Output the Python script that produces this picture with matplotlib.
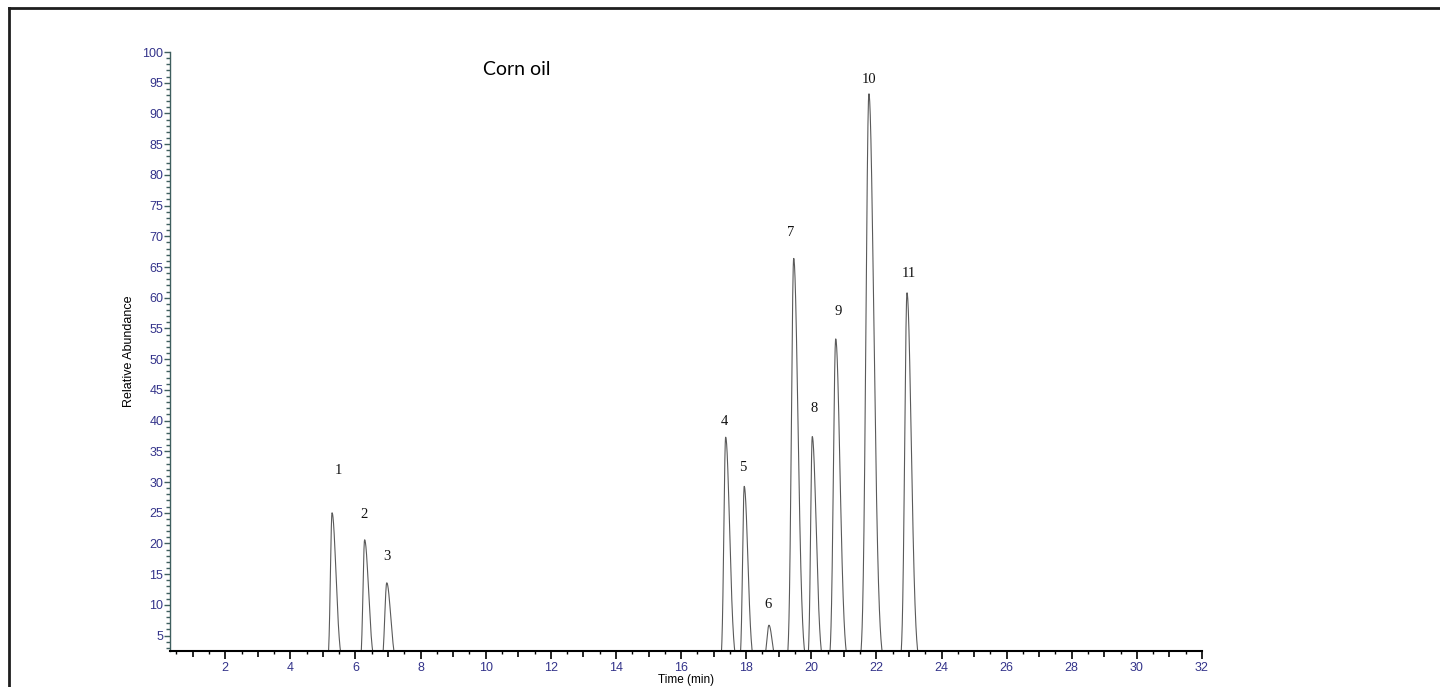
import numpy as np
import matplotlib.pyplot as plt
from matplotlib.lines import Line2D
from matplotlib.ticker import MultipleLocator, FuncFormatter

# Peak table (time in min, relative abundance)
peak_rt = [5.28, 6.28, 6.96, 17.37, 17.94, 18.70, 19.46, 20.03, 20.75, 21.77, 22.94]
peak_height = [25.0, 20.6, 13.6, 37.3, 29.3, 6.7, 66.4, 37.4, 53.3, 93.2, 60.8]
peak_wl = [0.050, 0.050, 0.060, 0.055, 0.050, 0.070, 0.070, 0.050, 0.070, 0.090, 0.070]
peak_wr = [0.120, 0.120, 0.120, 0.120, 0.110, 0.100, 0.130, 0.120, 0.130, 0.150, 0.130]

# Peak number labels
label_text = ['1', '2', '3', '4', '5', '6', '7', '8', '9', '10', '11']
label_x = [5.46, 6.26, 6.96, 17.32, 17.88, 18.66, 19.38, 20.09, 20.82, 21.77, 23.00]
label_y = [31.9, 24.7, 17.9, 39.9, 32.4, 10.0, 70.7, 41.9, 57.7, 95.6, 64.0]

# Build the trace from the peak table (asymmetric gaussian peaks)
t = np.linspace(0.3, 32, 8000)
signal = np.zeros_like(t)
for rt, h, wl, wr in zip(peak_rt, peak_height, peak_wl, peak_wr):
    w = np.where(t < rt, wl, wr)
    signal += h * np.exp(-0.5 * ((t - rt) / w) ** 2)

navy = '#33338a'
plt.rcParams['font.family'] = ['Liberation Sans', 'DejaVu Sans']

fig = plt.figure(figsize=(14.4, 6.87), dpi=100)
ax = fig.add_axes([0.118, 0.0524, 0.7167, 0.8719])

ax.plot(t, signal, color='#5a5a5a', lw=0.8)

for txt, lx, ly in zip(label_text, label_x, label_y):
    ax.text(lx, ly, txt, ha='center', va='center', fontsize=10.5,
            family=['Liberation Serif', 'DejaVu Serif'], color='#111111')

ax.text(0.3365, 0.97, 'Corn oil', transform=ax.transAxes, ha='center', va='center',
        fontsize=14, family=['Lato', 'DejaVu Sans'], color='black')

ax.set_xlim(0.3, 32)
ax.set_ylim(2.5, 100)

# Spines
ax.spines['top'].set_visible(False)
ax.spines['right'].set_visible(False)
ax.spines['bottom'].set_linewidth(1.5)
ax.spines['bottom'].set_color('black')
ax.spines['left'].set_linewidth(1.0)
ax.spines['left'].set_color('#3f5f5f')

# X ticks: integers (labels on even), minor at 0.5
ax.xaxis.set_major_locator(MultipleLocator(1))
ax.xaxis.set_minor_locator(MultipleLocator(0.5))
ax.xaxis.set_major_formatter(FuncFormatter(lambda v, p: '%d' % v if int(round(v)) % 2 == 0 else ''))
ax.tick_params(axis='x', which='major', direction='out', length=4.3, width=1.2,
               color='black', labelcolor=navy, labelsize=9, pad=3.5)
ax.tick_params(axis='x', which='minor', direction='out', length=2, width=1.0, color='black')
for v, tk in zip(ax.get_xticks(), ax.xaxis.get_major_ticks()):
    if int(round(v)) % 2 == 0:
        tk.tick1line.set_markersize(6)

# Y ticks: every 5 labelled, minor every 1
ax.yaxis.set_major_locator(MultipleLocator(5))
ax.yaxis.set_minor_locator(MultipleLocator(1))
ax.tick_params(axis='y', which='major', direction='out', length=4.3, width=1.0,
               color='#3f5f5f', labelcolor=navy, labelsize=9, pad=0.5)
ax.tick_params(axis='y', which='minor', direction='out', length=2.8, width=1.0, color='#3f5f5f')

ax.set_xlabel('Time (min)', fontsize=8.5, labelpad=0)
ax.set_ylabel('Relative Abundance', fontsize=9, labelpad=5)

# Frame lines at top and left of the picture
fig.add_artist(Line2D([8.7 / 1440, 1.0], [1 - 8 / 687, 1 - 8 / 687],
                      transform=fig.transFigure, color='#1e1e1e', lw=2))
fig.add_artist(Line2D([8.7 / 1440, 8.7 / 1440], [0.0, 1 - 8 / 687],
                      transform=fig.transFigure, color='#1e1e1e', lw=2))

plt.savefig('out.png', dpi=100)
plt.close()
